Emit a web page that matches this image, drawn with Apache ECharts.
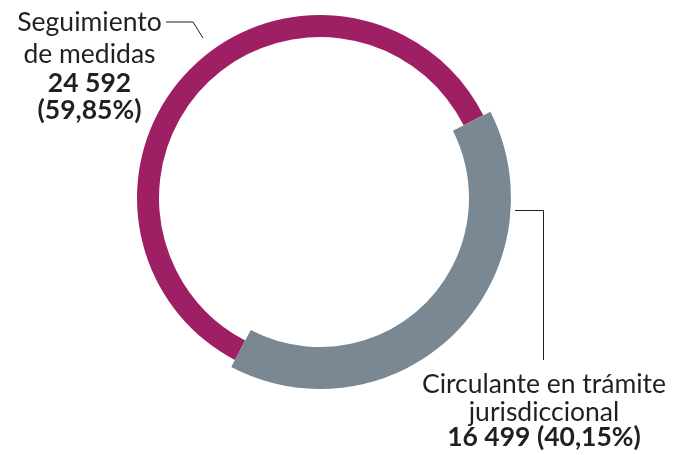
<!DOCTYPE html>
<html>
<head>
<meta charset="utf-8">
<script src="https://cdn.jsdelivr.net/npm/echarts@6/dist/echarts.min.js"></script>
<style>
  html, body { margin: 0; padding: 0; background: #ffffff; }
  #chart { width: 677px; height: 455px; }
</style>
</head>
<body>
<div id="chart"></div>
<script>
// Case categories and counts
const categories = ['Seguimiento\nde medidas', 'Circulante en trámite\njurisdiccional'];
const values = [24592, 16499];
const colors = ['#9e1f63', '#798893'];

const total = values.reduce((a, b) => a + b, 0);
const fmtInt = v => String(v).replace(/\B(?=(\d{3})+(?!\d))/g, ' ');
const fmtPct = v => (v / total * 100).toFixed(2).replace('.', ',') + '%';

const FONT = 'Lato, "Noto Sans", sans-serif';
const TEXT = '#231f20';
const center = [320, 198];

// label text for each slice: name lines, then the bold figures
function labelText(i) {
  const s = i === 0 ? 'a' : 'c';
  const name = categories[i].split('\n').map(t => '{n' + s + '|' + t + '}').join('\n');
  if (i === 0) {
    return name + '\n{b' + s + '|' + fmtInt(values[i]) + '}\n{b' + s + '|(' + fmtPct(values[i]) + ')}';
  }
  return name + '\n{b' + s + '|' + fmtInt(values[i]) + ' (' + fmtPct(values[i]) + ')}';
}

const txt = (lh, bold) => ({
  fontFamily: FONT, fontSize: 26.5, lineHeight: lh, color: TEXT,
  fontWeight: bold ? 'bold' : 'normal'
});

// label anchor points (top-centre of each text block)
const labelPos = [[89.5, 6], [544, 370]];

// one ring per slice so each can have its own thickness
const ringRadius = [[161, 183], [149, 191]];

function ringSeries(k) {
  return {
    type: 'pie',
    center: center,
    radius: ringRadius[k],
    startAngle: 242.3,
    clockwise: true,
    silent: true,
    animation: false,
    avoidLabelOverlap: false,
    labelLine: { show: false },
    emphasis: { disabled: true },
    label: {
      show: true,
      position: 'outside',
      color: TEXT,
      fontFamily: FONT,
      align: 'center',
      formatter: p => labelText(p.dataIndex),
      rich: {
        na: txt(32, false), ba: txt(27, true),
        nc: txt(28, false), bc: txt(23, true)
      }
    },
    labelLayout: p => ({
      x: labelPos[p.dataIndex][0],
      y: labelPos[p.dataIndex][1],
      align: 'center',
      verticalAlign: 'top'
    }),
    data: values.map((v, i) => ({
      name: categories[i],
      value: v,
      itemStyle: { color: i === k ? colors[i] : 'rgba(0,0,0,0)' },
      label: { show: i === k }
    }))
  };
}

const chart = echarts.init(document.getElementById('chart'), null, { renderer: 'canvas' });
chart.setOption({
  backgroundColor: '#ffffff',
  series: [ringSeries(0), ringSeries(1)],
  graphic: [
    {
      type: 'polyline',
      silent: true,
      shape: { points: [[166, 22], [193, 22], [203, 38]] },
      style: { stroke: TEXT, lineWidth: 1, fill: null }
    },
    {
      type: 'polyline',
      silent: true,
      shape: { points: [[515, 210.5], [543.5, 210.5], [543.5, 360]] },
      style: { stroke: TEXT, lineWidth: 1, fill: null }
    }
  ]
});
</script>
</body>
</html>
